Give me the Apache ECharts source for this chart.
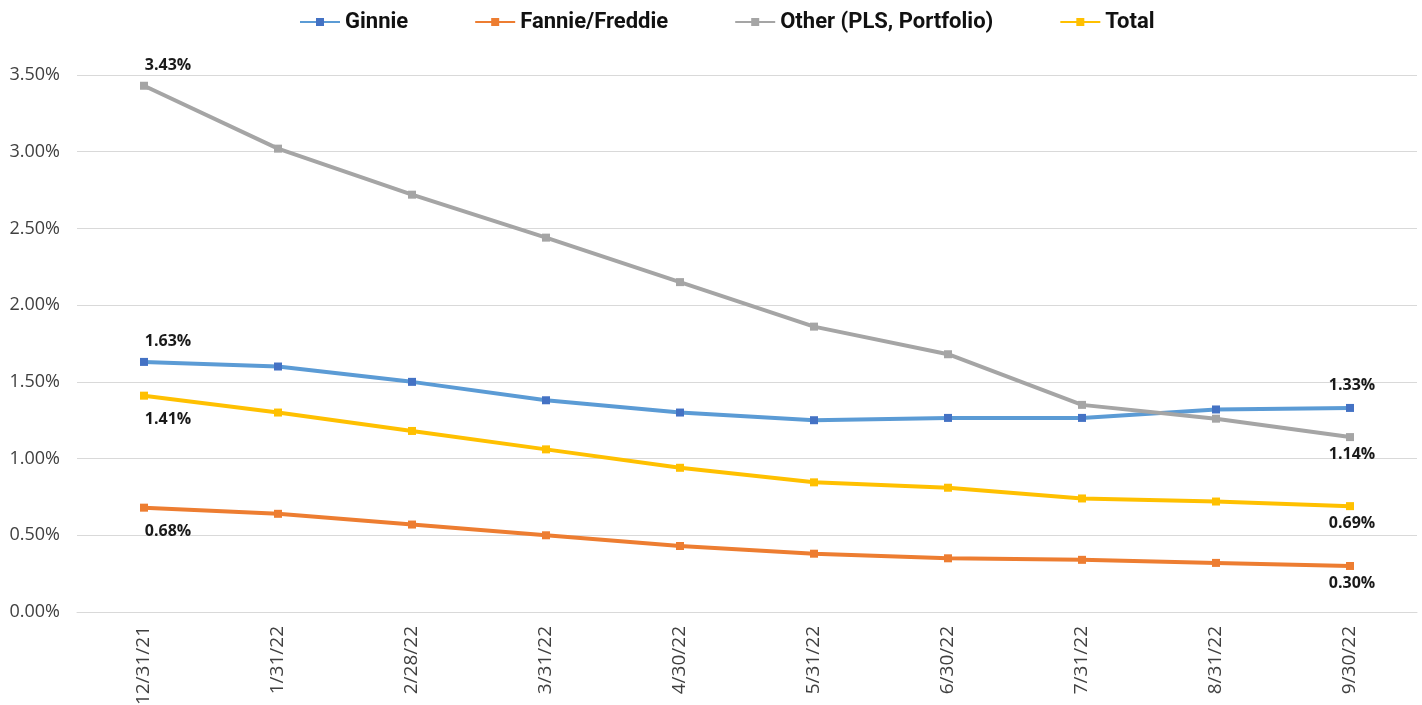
<!DOCTYPE html>
<html><head><meta charset="utf-8">
<script src="https://cdn.jsdelivr.net/npm/echarts@6/dist/echarts.min.js"></script>
<style>html,body{margin:0;padding:0;background:#fff}#c{width:1422px;height:705px}</style>
</head><body><div id="c"></div>
<script>
const categories = ['12/31/21','1/31/22','2/28/22','3/31/22','4/30/22','5/31/22','6/30/22','7/31/22','8/31/22','9/30/22'];
const ginnie = [1.63,1.60,1.50,1.38,1.30,1.25,1.265,1.265,1.32,1.33];
const fannie = [0.68,0.64,0.57,0.50,0.43,0.38,0.35,0.34,0.32,0.30];
const other = [3.43,3.02,2.72,2.44,2.15,1.86,1.68,1.35,1.26,1.14];
const total = [1.41,1.30,1.18,1.06,0.94,0.845,0.81,0.74,0.72,0.69];
const seriesNames = ['Ginnie','Fannie/Freddie','Other (PLS, Portfolio)','Total'];

const font = '"Open Sans", Roboto, sans-serif';
function mk(name, data, color, markerColor, firstPos, lastPos) {
  return {
    name, type: 'line', data: data.map((v, i) => {
      const o = { value: v };
      if (i === 0 || i === data.length - 1) {
        const pos = i === 0 ? firstPos : lastPos;
        o.label = { show: true, position: pos, offset: i === 0 ? [24, pos === 'top' ? -3 : 7] : [2, pos === 'top' ? -6 : 0] };
      }
      return o;
    }),
    symbol: 'rect', symbolSize: 8, showAllSymbol: true,
    lineStyle: { color, width: 4 },
    itemStyle: { color: markerColor },
    label: { show: false, formatter: p => p.value.toFixed(2) + '%', fontFamily: font, fontWeight: 'bold', fontSize: 16, color: '#1a1a1a' },
    emphasis: { disabled: true }
  };
}
const chart = echarts.init(document.getElementById('c'));
chart.setOption({
  animation: false,
  legend: {
    top: 6, left: 294, itemGap: 66, itemWidth: 40, itemHeight: 10,
    textStyle: { fontFamily: 'Roboto, sans-serif', fontSize: 22, fontWeight: 'bold', color: '#111' },
    data: seriesNames
  },
  grid: { left: 77, right: 5, top: 75, bottom: 93, containLabel: false, outerBoundsMode: 'none' },
  xAxis: {
    type: 'category', data: categories, boundaryGap: true,
    axisLine: { show: true, lineStyle: { color: '#d9d9d9' } },
    axisTick: { show: false },
    axisLabel: { rotate: 90, fontFamily: font, fontSize: 19, color: '#404040', margin: 14 }
  },
  yAxis: {
    type: 'value', min: 0, max: 3.5, interval: 0.5,
    axisLine: { show: false }, axisTick: { show: false },
    splitLine: { lineStyle: { color: '#d9d9d9', width: 1 } },
    axisLabel: { formatter: v => v.toFixed(2) + '%', fontFamily: font, fontSize: 18, color: '#404040', margin: 17 }
  },
  series: [
    mk(seriesNames[0], ginnie, '#5B9BD5', '#4472C4', 'top', 'top'),
    mk(seriesNames[1], fannie, '#ED7D31', '#ED7D31', 'bottom', 'bottom'),
    mk(seriesNames[2], other, '#A5A5A5', '#A5A5A5', 'top', 'bottom'),
    mk(seriesNames[3], total, '#FFC000', '#FFC000', 'bottom', 'bottom')
  ]
});
</script></body></html>
